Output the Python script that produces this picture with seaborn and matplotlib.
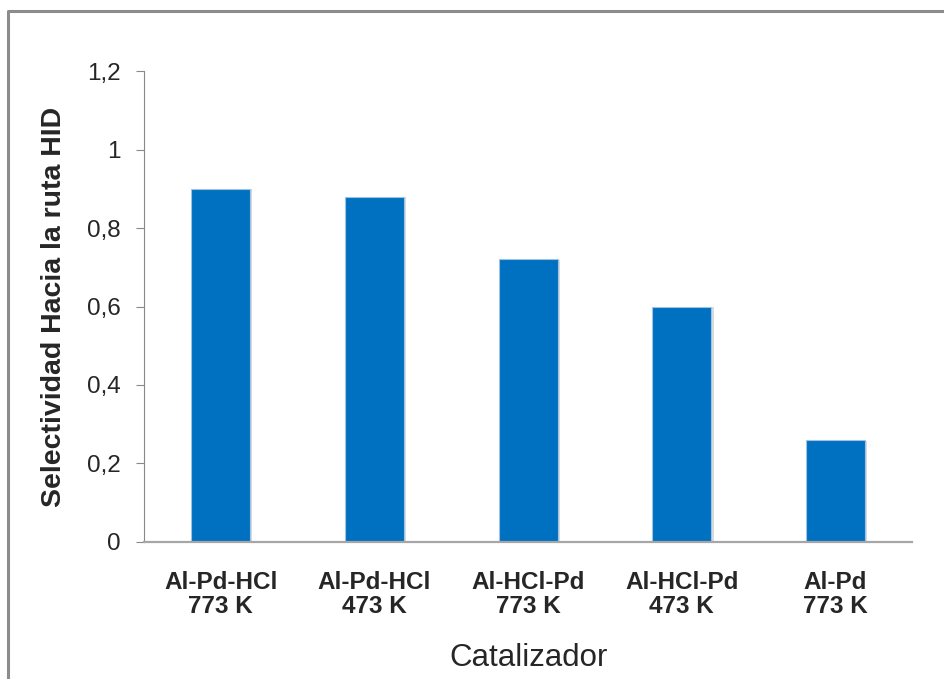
import matplotlib
matplotlib.use("Agg")
import matplotlib.pyplot as plt
import matplotlib.patheffects as pe
from matplotlib.lines import Line2D
import seaborn as sns
import pandas as pd

# Catalyst selectivity towards the HID route
catalysts = ["Al-Pd-HCl\n773 K", "Al-Pd-HCl\n473 K", "Al-HCl-Pd\n773 K",
             "Al-HCl-Pd\n473 K", "Al-Pd\n773 K"]
selectivity = [0.90, 0.88, 0.72, 0.60, 0.26]
y_ticks = [0, 0.2, 0.4, 0.6, 0.8, 1.0, 1.2]
y_tick_labels = ["0", "0,2", "0,4", "0,6", "0,8", "1", "1,2"]

df = pd.DataFrame({"Catalizador": catalysts, "Selectividad": selectivity})

sns.set_theme(style="white")
plt.rcParams["font.family"] = ["Liberation Sans", "DejaVu Sans"]

fig = plt.figure(figsize=(9.44, 6.79), dpi=100)
ax = fig.add_axes([0.1525, 0.2018, 0.814, 0.6936])

sns.barplot(data=df, x="Catalizador", y="Selectividad", ax=ax,
            color="#0070C0", width=0.385, saturation=1,
            edgecolor="#9DC3E6", linewidth=0.8)
for bar in ax.patches:
    bar.set_path_effects([pe.withSimplePatchShadow(offset=(1.5, -0.5),
                                                   shadow_rgbFace="#999999", alpha=0.35)])

ax.set_ylim(0, 1.2)
ax.set_xlim(-0.5, len(catalysts) - 0.5)
ax.set_yticks(y_ticks)
ax.set_yticklabels(y_tick_labels, fontsize=17.5)
ax.tick_params(axis="y", which="major", left=True, length=6, width=0.8,
               color="#888888", pad=11)
ax.tick_params(axis="x", bottom=False, pad=15)
for lab in ax.get_xticklabels():
    lab.set_fontweight("bold")
    lab.set_fontsize(17.5)
    lab.set_linespacing(1.05)

sns.despine(ax=ax, top=True, right=True)
ax.spines["left"].set_color("#888888")
ax.spines["left"].set_linewidth(0.8)
ax.spines["bottom"].set_color("#A6A6A6")
ax.spines["bottom"].set_linewidth(1.6)

ax.set_ylabel("Selectividad Hacia la ruta HID", fontsize=20.5, fontweight="bold", labelpad=14)
ax.set_xlabel("Catalizador", fontsize=22.5, labelpad=18)

# Chart-area frame
fig.add_artist(Line2D([8 / 944, 8 / 944, 1.0], [0.0, 1 - 11 / 679, 1 - 11 / 679],
                      transform=fig.transFigure, color="#8C8C8C", linewidth=2.2))

fig.savefig("out.png", dpi=100)
